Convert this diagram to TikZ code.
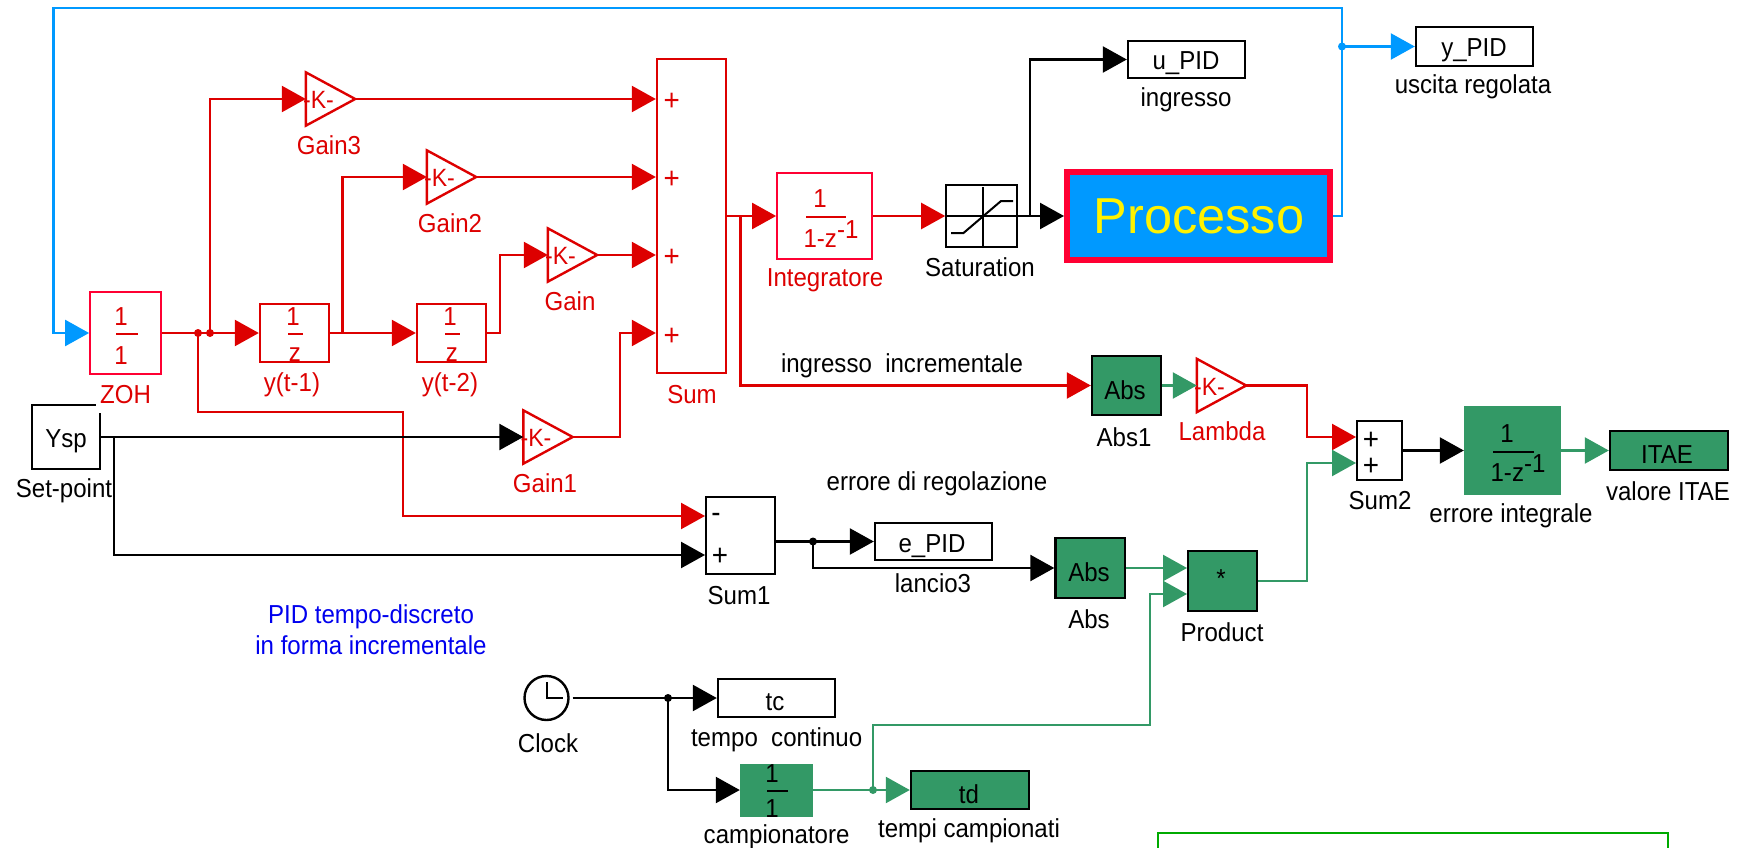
\documentclass[tikz,border=0pt]{standalone}
\usepackage{fontspec}
\setmainfont[FakeStretch=0.925]{Liberation Sans}
\newfontfamily\plainf{Liberation Sans}
\usetikzlibrary{arrows.meta,calc}
\definecolor{rd}{HTML}{DD0000}
\definecolor{crim}{HTML}{FF0033}
\definecolor{blu}{HTML}{0099FF}
\definecolor{grn}{HTML}{339966}
\definecolor{lab}{HTML}{0000EE}
\definecolor{bgrn}{HTML}{00AA00}
\tikzset{
  boxst/.style={rectangle,inner sep=0pt},
  rblock/.style={boxst,draw=rd,line width=2.4pt},
  pblock/.style={boxst,draw=crim,line width=1.8pt},
  kblock/.style={boxst,draw=black,line width=2.4pt},
  gblock/.style={boxst,draw=black,fill=grn,line width=2.4pt},
  gfill/.style={boxst,fill=grn},
  txtst/.style={inner sep=0pt,font=\fontsize{26}{31}\selectfont},
  sgnst/.style={inner sep=0pt,font=\fontsize{30}{30}\selectfont},
  wirest/.style={line width=2.4pt,line cap=butt,line join=miter},
  rwire/.style={wirest,draw=rd},
  kwire/.style={wirest,draw=black},
  gwire/.style={wirest,draw=grn},
  bwire/.style={wirest,draw=blu},
  tipst/.style={-{Triangle[length=24pt,width=26pt]}},
  rarrow/.style={rwire,tipst},
  karrow/.style={kwire,tipst},
  garrow/.style={gwire,tipst},
  barrow/.style={bwire,tipst},
  jdot/.style={circle,inner sep=0pt,minimum size=8pt},
  bar/.style={line width=2pt},
}
\newcommand\blk[6]{\node[#6,minimum width={#4-#2-2},minimum height={#5-#3-2}] (#1) at ({(#2+#4)/2},{(#3+#5)/2}) {};}
\newcommand\lab[5]{\node[txtst,text=#4] (#1) at (#2,#3) {#5};}
\newcommand\sgn[5]{\node[sgnst,text=#4] (#1) at (#2,#3) {#5};}
\newcommand\gain[3]{%
  \node[boxst,minimum width=49pt,minimum height=53pt] (#1) at ({#2+24.5},#3) {};
  \draw[rd,line width=2.4pt,line join=miter] (#1.north west) -- (#1.east) -- (#1.south west) -- cycle;
  \node[inner sep=0pt,text=rd,font=\fontsize{25}{28}\selectfont] (#1k) at ({#2+12.5},{#3+1}) {-K-};
}
\begin{document}
\begin{tikzpicture}[x=1pt,y=-1pt]
\useasboundingbox (0,0) rectangle (1742,848);

% ---------- Ysp and the ZOH label, which masks its corner
\blk{ysp}{31}{404}{101}{470}{kblock}
\node[txtst,text=rd,fill=white,inner xsep=4pt,inner ysep=9pt] (zohl) at (125.5,395) {ZOH};

% ---------- red blocks
\blk{zoh}{89}{291}{162}{375}{pblock,fill=white}
\blk{yt1}{259}{303}{330}{363}{rblock}
\blk{yt2}{416}{303}{487}{363}{rblock}
\blk{sum}{656}{58}{727}{374}{rblock}
\blk{integ}{776}{172}{873}{260}{pblock}
\gain{g3}{306}{99}
\gain{g2}{427}{177}
\gain{g}{548}{255}
\gain{g1}{523.5}{437}
\gain{lam}{1197}{385.5}

% ---------- other blocks
\blk{sat}{945}{184}{1018}{248}{kblock,line width=1.6pt}
\blk{upid}{1127}{40}{1246}{79}{kblock}
\blk{ypid}{1415}{26}{1534}{67}{kblock}
\node[boxst,draw=crim,fill=blu,line width=6pt,minimum width=263pt,minimum height=88pt] (proc) at (1198.5,216) {};
\blk{absa}{1091}{355}{1162}{416}{gblock}
\blk{sumb}{705}{496}{776}{575}{kblock}
\blk{epid}{874}{522}{993}{561}{kblock}
\blk{absb}{1054.5}{537}{1126}{599}{gblock}
\blk{prod}{1187}{550}{1258}{612}{gblock}
\blk{sumc}{1356}{420}{1403}{481}{kblock}
\node[boxst,fill=grn,minimum width=97pt,minimum height=89pt] (errint) at (1512.5,450.5) {};
\blk{itae}{1609}{430}{1729}{471}{gblock}
\node[circle,draw=black,line width=2.4pt,inner sep=0pt,minimum size=44pt] (clock) at (546.5,698) {};
\blk{tc}{717}{678}{836}{718}{kblock}
\node[boxst,fill=grn,minimum width=73pt,minimum height=53pt] (camp) at (776.5,790) {};
\blk{td}{910}{770}{1030}{810}{gblock}

% ---------- helper points
\node[jdot,fill=rd] (ja) at (198,333) {};
\node[jdot,fill=rd] (jb) at (210,333) {};
\coordinate (jcc) at (342.5,333);
\coordinate (cred) at (403,412);
\coordinate (sin1) at (705,516);
\coordinate (sin2) at (705,555);
\coordinate (c4) at (620,333);
\coordinate (jsum) at (740.5,216);
\coordinate (jsat) at (1030,216);
\node[jdot,fill=blu] (jblue) at (1342,46.5) {};
\coordinate (btr) at (1342,8);
\coordinate (btl) at (53.6,8);
\coordinate (jysp) at (114,437);
\node[jdot,fill=black] (jerr) at (813,541.5) {};
\node[jdot,fill=black] (jclk) at (668,698) {};
\node[jdot,fill=grn] (jgrn) at (873,790) {};
\coordinate (s2a) at (1356,437);
\coordinate (s2b) at (1356,463);
\coordinate (k1) at (1307,437);
\coordinate (k2) at (1307,463);
\coordinate (p1) at (1187,568);
\coordinate (p2) at (1187,594);
\coordinate (k3) at (1150,725);

% ---------- red connectors
\draw[rarrow] (zoh.east) -- (yt1.west);
\draw[rarrow] (jb.center) |- (g3.west);
\draw[rarrow] (yt1.east) -- (yt2.west);
\draw[rarrow] (jcc) |- (g2.west);
\draw[rarrow] (yt2.east) -- ++(12.5,0) |- (g.west);
\draw[rarrow] (g3.east) -- (sum.west |- g3.east);
\draw[rarrow] (g2.east) -- (sum.west |- g2.east);
\draw[rarrow] (g.east) -- (sum.west |- g.east);
\draw[rarrow] (g1.east) -| (c4) -- (sum.west |- c4);
\draw[rarrow] (ja.center) |- (cred) |- (sin1);
\draw[rarrow] (sum.east) -- (integ.west);
\draw[rarrow] (integ.east) -- (sat.west);
\draw[rarrow] (jsum) |- (absa.west);
\draw[rarrow] (lam.east) -| (k1) -- (s2a);

% ---------- black connectors
\draw[karrow] (ysp.east) -- (g1.west);
\draw[karrow] (jysp) |- (sin2);
\draw[karrow] (sat.east) -- (proc.west);
\draw[karrow] (jsat) |- (upid.west);
\draw[kwire] (sumb.east |- jerr) -- (jerr.center);
\draw[karrow] (jerr.center) -- (epid.west);
\draw[karrow] (jerr.center) |- (absb.west);
\draw[karrow] (sumc.east) -- (errint.west);
\draw[karrow,shorten <=3pt] (clock.east) -- (tc.west);
\draw[karrow] (jclk.center) |- (camp.west);

% ---------- green connectors
\draw[garrow] (absa.east) -- (lam.west);
\draw[garrow] (absb.east) -- (p1);
\draw[garrow] (prod.east) -| (k2) -- (s2b);
\draw[garrow] (errint.east) -- (itae.west);
\draw[garrow] (camp.east) -- (td.west);
\draw[garrow] (jgrn.center) |- (k3) |- (p2);

% ---------- blue connectors
\draw[barrow] (proc.east) -| (btr) -- (btl) |- (zoh.west);
\draw[barrow] (jblue.center) -- (ypid.west);

% ---------- thin box
\draw[bgrn,line width=2pt] (1158,848) -- (1158,833) -- (1668,833) -- (1668,848);

% ---------- saturation icon
\draw[black,line width=2pt] (947,216) -- (1017,216) (983,187) -- (983,247);
\draw[black,line width=2pt] (951,233) -- (963.5,233) -- (1001,201) -- (1013,201);

% ---------- clock hands
\draw[black,line width=2pt] ($(clock.center)+(0,-16)$) -- (clock.center) -- ++(16,0);

% ---------- fractions
\lab{za}{121}{317}{rd}{1}
\draw[rd,bar] (116,334) -- (138,334);
\lab{zb}{121}{356}{rd}{1}
\lab{ya}{293}{317}{rd}{1}
\draw[rd,bar] (288,334) -- (303,334);
\lab{yb}{295}{355}{rd}{z}
\lab{yc}{450}{317}{rd}{1}
\draw[rd,bar] (445,334) -- (460,334);
\lab{yd}{452}{355}{rd}{z}
\lab{ia}{820}{199}{rd}{1}
\draw[rd,bar] (806,217) -- (846,217);
\node[txtst,text=rd,anchor=base] (ib) at (831,247) {1-z\raisebox{9pt}{-1}};
\lab{ea}{1507}{434}{black}{1}
\draw[black,bar] (1493,452) -- (1534,452);
\node[txtst,text=black,anchor=base] (eb) at (1518,481) {1-z\raisebox{9pt}{-1}};
\lab{ca}{772}{774}{black}{1}
\draw[black,bar] (767,791) -- (788,791);
\lab{cb}{772}{809}{black}{1}

% ---------- signs
\sgn{pa}{671.6}{102}{rd}{+}
\sgn{pb}{671.6}{180}{rd}{+}
\sgn{pc}{671.6}{258}{rd}{+}
\sgn{pd}{671.6}{337}{rd}{+}
\sgn{qa}{716}{518}{black}{-}
\sgn{qb}{720}{557}{black}{+}
\sgn{ra}{1371}{441}{black}{+}
\sgn{rb}{1371}{467}{black}{+}
\lab{star}{1221}{579}{black}{*}

% ---------- texts in blocks
\lab{tysp}{66}{441}{black}{Ysp}
\lab{tu}{1186}{63}{black}{u\_PID}
\lab{ty}{1474}{50}{black}{y\_PID}
\lab{te}{932}{546}{black}{e\_PID}
\lab{ttc}{775}{702}{black}{tc}
\lab{ttd}{969}{794}{black}{td}
\lab{tit}{1667}{455}{black}{ITAE}
\lab{tab1}{1125}{390}{black}{Abs}
\lab{tab2}{1089}{572}{black}{Abs}
\node[inner sep=0pt,text=yellow,font=\plainf\fontsize{50.5}{56}\selectfont] (tp) at (1199,216) {Processo};

% ---------- captions
\lab{lg3}{329}{145}{rd}{Gain3}
\lab{lg2}{450}{223}{rd}{Gain2}
\lab{lg}{570}{301}{rd}{Gain}
\lab{ly1}{292}{385}{rd}{y(t-1)}
\lab{ly2}{450}{385}{rd}{y(t-2)}
\lab{lsum}{692}{395}{rd}{Sum}
\lab{lint}{825}{280}{rd}{Integratore}
\lab{lsat}{980}{267}{black}{Saturation}
\lab{lin}{1186}{100}{black}{ingresso}
\lab{linc}{902}{366}{black}{ingresso\ \ incrementale}
\lab{labs1}{1124}{437}{black}{Abs1}
\lab{llam}{1222}{431}{rd}{Lambda}
\lab{lusc}{1473}{87}{black}{uscita regolata}
\lab{lset}{64}{491}{black}{Set-point}
\lab{lg1}{545}{483}{rd}{Gain1}
\node[txtst,text=lab,align=center] (lpid) at (371,629.5) {PID tempo-discreto\\in forma incrementale};
\lab{lclk}{548}{743}{black}{Clock}
\lab{lerr}{937}{484}{black}{errore di regolazione}
\lab{llan}{933}{583}{black}{lancio3}
\lab{ls1}{739}{596}{black}{Sum1}
\lab{labs}{1089}{619}{black}{Abs}
\lab{ltc}{776.6}{740}{black}{tempo\ \ continuo}
\lab{lcam}{776.6}{837}{black}{campionatore}
\lab{ltd}{969}{831}{black}{tempi campionati}
\lab{lpr}{1222}{632}{black}{Product}
\lab{ls2}{1380}{501}{black}{Sum2}
\lab{lei}{1511}{516}{black}{errore integrale}
\lab{lit}{1668}{491}{black}{valore ITAE}
\end{tikzpicture}
\end{document}
